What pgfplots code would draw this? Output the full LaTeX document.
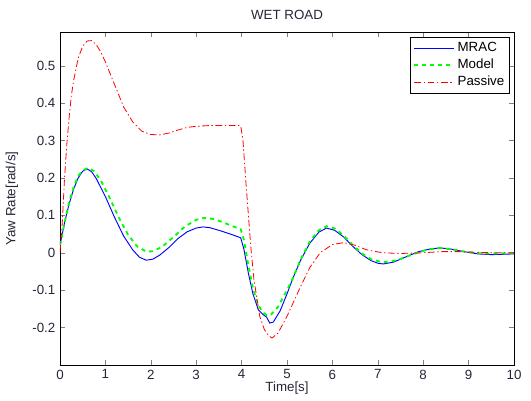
\documentclass[border=0pt]{standalone}
\usepackage{fontspec}
\setmainfont{Liberation Sans}
\usepackage{pgfplots}
\pgfplotsset{compat=1.18}
\definecolor{ticktxt}{RGB}{38,38,56}
\begin{document}
\begin{tikzpicture}
\begin{axis}[
  scale only axis,
  width=340.5pt, height=249.75pt,
  xmin=0, xmax=10, ymin=-0.3, ymax=0.59,
  xtick={0,1,...,10},
  ytick={-0.2,-0.1,0,0.1,0.2,0.3,0.4,0.5},
  yticklabels={-0.2,-0.1,0,0.1,0.2,0.3,0.4,0.5},
  /pgf/number format/assume math mode=true,
  tick label style={font=\fontsize{10}{12}\selectfont, text=ticktxt},
  label style={font=\fontsize{10}{12}\selectfont, text=ticktxt},
  xlabel={Time[s]},
  ylabel={Yaw Rate[rad/s]},
  xlabel style={at={(axis description cs:0.5,0)}, anchor=center, yshift=-17.25pt},
  ylabel style={at={(axis description cs:-0.1057,0.5)}, anchor=center},
  major tick length=4pt,
  legend style={at={(0.991,0.985)}, anchor=north east, font=\fontsize{10}{12}\selectfont, draw=black, cells={anchor=west}, row sep=0pt, inner sep=2pt},
  legend cell align=left,
  legend image code/.code={\draw[#1] (0cm,0cm) -- (1.05cm,0cm);},
]
\addplot[blue, line width=0.7pt] coordinates {
(0,0.02) (0.1,0.08) (0.2,0.13) (0.3,0.17) (0.4,0.2) (0.5,0.218) (0.6,0.224) (0.7,0.216) (0.8,0.198)
(1.0,0.15) (1.2,0.095) (1.4,0.045) (1.6,0.008) (1.75,-0.012) (1.9,-0.02) (2.05,-0.017) (2.2,-0.006)
(2.4,0.014) (2.6,0.038) (2.8,0.056) (3.0,0.066) (3.15,0.069) (3.3,0.067) (3.5,0.06) (3.8,0.048) (3.98,0.04)
(4.05,0.01) (4.15,-0.055) (4.25,-0.11) (4.37,-0.153) (4.47,-0.165) (4.55,-0.172) (4.62,-0.188) (4.7,-0.185)
(4.85,-0.155) (5.0,-0.11) (5.13,-0.068) (5.3,-0.02) (5.5,0.025) (5.7,0.055) (5.87,0.066) (6.05,0.06)
(6.25,0.042) (6.45,0.017) (6.65,-0.005) (6.85,-0.021) (7.0,-0.028) (7.12,-0.03) (7.35,-0.025) (7.6,-0.012)
(7.9,0.003) (8.15,0.01) (8.37,0.013) (8.6,0.01) (8.9,0.003) (9.2,-0.003) (9.5,-0.005) (9.8,-0.004) (10,-0.003)
};
\addlegendentry{MRAC}
\addplot[green, dashed, line width=1.4pt] coordinates {
(0,0.02) (0.1,0.08) (0.2,0.135) (0.3,0.175) (0.4,0.205) (0.5,0.22) (0.62,0.227) (0.75,0.218) (0.9,0.193)
(1.1,0.145) (1.3,0.093) (1.5,0.048) (1.7,0.017) (1.9,0.003) (2.05,0.004) (2.25,0.016) (2.5,0.042)
(2.75,0.07) (3.0,0.088) (3.17,0.093) (3.4,0.09) (3.6,0.081) (3.8,0.071) (3.98,0.063)
(4.05,0.035) (4.15,-0.035) (4.25,-0.095) (4.35,-0.135) (4.45,-0.157) (4.55,-0.167) (4.65,-0.165)
(4.8,-0.145) (5.0,-0.1) (5.13,-0.068) (5.3,-0.018) (5.5,0.03) (5.7,0.06) (5.87,0.071) (6.05,0.065)
(6.25,0.046) (6.45,0.02) (6.65,-0.002) (6.85,-0.017) (7.05,-0.024) (7.2,-0.025) (7.45,-0.019)
(7.75,-0.005) (8.05,0.007) (8.37,0.013) (8.65,0.009) (8.95,0.002) (9.3,-0.002) (9.6,-0.002) (10,-0.001)
};
\addlegendentry{Model}
\addplot[red, dash pattern=on 5pt off 2pt on 1pt off 2pt, line width=0.6pt] coordinates {
(0,0.0) (0.05,0.08) (0.1,0.2) (0.15,0.29) (0.2,0.36) (0.25,0.42) (0.3,0.46) (0.4,0.52) (0.5,0.552)
(0.6,0.566) (0.7,0.567) (0.8,0.556) (0.9,0.536) (1.0,0.51) (1.2,0.45) (1.4,0.39) (1.6,0.35) (1.8,0.325)
(2.0,0.316) (2.2,0.315) (2.4,0.32) (2.6,0.328) (2.8,0.335) (3.0,0.338) (3.3,0.34) (3.6,0.34) (3.98,0.34)
(4.03,0.3) (4.1,0.18) (4.2,0.02) (4.27,-0.07) (4.4,-0.17) (4.5,-0.205) (4.6,-0.222) (4.67,-0.228)
(4.8,-0.215) (5.0,-0.17) (5.15,-0.13) (5.3,-0.09) (5.5,-0.04) (5.73,0.0) (6.0,0.022) (6.25,0.027)
(6.5,0.02) (6.75,0.008) (7.1,0.0) (7.5,-0.002) (8.0,0.0) (8.4,0.003) (8.8,0.003) (9.2,0.001) (9.6,0.0) (10,0.0)
};
\addlegendentry{Passive}
\end{axis}
\node[font=\fontsize{10}{12}\selectfont, text=ticktxt, anchor=center] at ([yshift=12.75pt]current axis.north) {WET ROAD};
\pgfresetboundingbox
\path ([shift={(-45pt,-27pt)}]current axis.south west) rectangle ([shift={(12.75pt,24pt)}]current axis.north east);
\end{tikzpicture}
\end{document}
